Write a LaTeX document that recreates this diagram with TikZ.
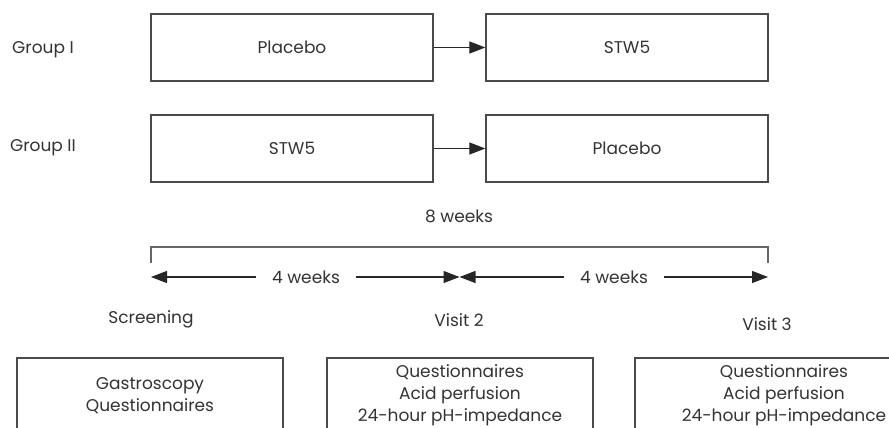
\documentclass[tikz,border=0pt]{standalone}
\usepackage{fontspec}
\setmainfont{Poppins}
\usetikzlibrary{arrows.meta}
\definecolor{txt}{HTML}{333333}
\definecolor{ln}{HTML}{4A4A4A}
\begin{document}
\begin{tikzpicture}[x=1pt,y=-1pt,
  every node/.style={text=txt,font=\fontsize{17}{22}\selectfont},
  box/.style={draw=ln,line width=1.3pt,minimum width=282pt,minimum height=67pt,inner sep=0pt},
  lowbox/.style={draw=ln,line width=1.3pt,minimum width=266pt,minimum height=75pt,align=center,inner sep=0pt,font=\fontsize{17}{22}\selectfont},
  lbl/.style={inner sep=0pt},
  arr/.style={line width=1.2pt,draw=black!85,-{Triangle[length=16pt,width=12pt]}},
  brk/.style={line width=2pt,draw=black!60}]
\useasboundingbox (0,0) rectangle (889,428);
\clip (0,0) rectangle (889,428);
% groups
\node[lbl] (g1) at (43,50) {Group I};
\node[lbl] (g2) at (43,148) {Group II};
\node[box] (p1) at (292,47.5) {Placebo};
\node[box] (s1) at (627,47.5) {STW5};
\node[box] (s2) at (292,148.5) {STW5};
\node[box] (p2) at (627,148.5) {Placebo};
\draw[arr] (p1.east) -- (s1.west);
\draw[arr] (s2.east) -- (p2.west);
% 8 weeks bracket
\node[lbl] (eight) at (459,216) {8 weeks};
\coordinate (b0) at (151,247);
\coordinate (b1) at (768,247);
\coordinate (t0) at (151,263);
\coordinate (t1) at (768,263);
\draw[brk] (t0) -- (b0) -- (b1) -- (t1);
% 4 weeks arrows
\coordinate (a0) at (151,277);
\coordinate (am) at (459.5,277);
\coordinate (a1) at (768,277);
\node[inner sep=0pt,inner xsep=16pt] (w1) at (306,277) {4 weeks};
\node[inner sep=0pt,inner xsep=16pt] (w2) at (614,277) {4 weeks};
\draw[arr] (w1.west) -- (a0);
\draw[arr] (w1.east) -- (am);
\draw[arr] (w2.west) -- (am);
\draw[arr] (w2.east) -- (a1);
% visits
\node[lbl] (v1) at (151,319) {Screening};
\node[lbl] (v2) at (459,320) {Visit 2};
\node[lbl] (v3) at (767,324) {Visit 3};
% bottom boxes
\node[lowbox] (c1) at (150,395.5) {Gastroscopy\\Questionnaires};
\node[lowbox] (c2) at (460,395.5) {Questionnaires\\Acid perfusion\\24-hour pH-impedance};
\node[lowbox,minimum width=298pt] (c3) at (784,395.5) {Questionnaires\\Acid perfusion\\24-hour pH-impedance};
\end{tikzpicture}
\end{document}
